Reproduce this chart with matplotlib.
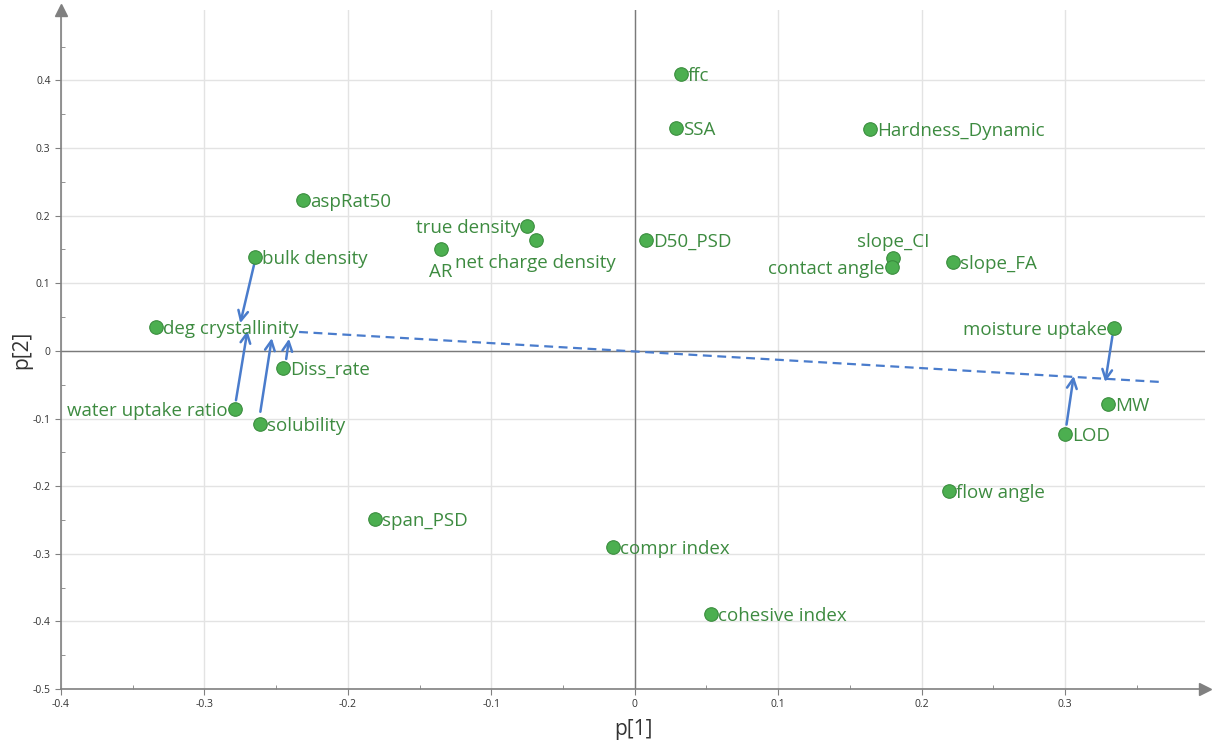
import matplotlib.pyplot as plt
from matplotlib.ticker import MultipleLocator

plt.rcParams['font.family'] = ['Open Sans', 'DejaVu Sans']

names = ["ffc", "SSA", "Hardness_Dynamic", "aspRat50", "true density",
         "net charge density", "AR", "D50_PSD", "slope_CI", "contact angle",
         "slope_FA", "bulk density", "deg crystallinity", "moisture uptake",
         "Diss_rate", "water uptake ratio", "solubility", "MW", "LOD",
         "flow angle", "span_PSD", "compr index", "cohesive index"]
p1 = [0.032, 0.029, 0.164, -0.231, -0.075, -0.069, -0.135, 0.008, 0.180, 0.179,
      0.222, -0.265, -0.334, 0.334, -0.245, -0.279, -0.261, 0.330, 0.300,
      0.219, -0.181, -0.015, 0.053]
p2 = [0.410, 0.330, 0.328, 0.223, 0.185, 0.164, 0.151, 0.164, 0.138, 0.124,
      0.132, 0.139, 0.036, 0.034, -0.025, -0.086, -0.108, -0.078, -0.123,
      -0.207, -0.249, -0.290, -0.389]
# label placement: right, left, above, below
place = ["right", "right", "right", "right", "left", "below", "below", "right",
         "above", "left", "right", "right", "right", "left", "right", "left",
         "right", "right", "right", "right", "right", "right", "right"]

# arrows from start to end
arrow_start = [(-0.265, 0.131), (-0.278, -0.073), (-0.261, -0.090), (-0.243, -0.012),
               (0.333, 0.022), (0.301, -0.109)]
arrow_end = [(-0.275, 0.041), (-0.270, 0.030), (-0.253, 0.019), (-0.241, 0.018),
             (0.328, -0.046), (0.306, -0.037)]
trend_x = [-0.234, 0.367]
trend_y = [0.028, -0.046]

fig = plt.figure(figsize=(12.12, 7.42), dpi=100)
ax = fig.add_axes([0.0503, 0.0714, 0.944, 0.915])
xmin, xmax = -0.4, 0.3976
ymin, ymax = -0.5, 0.504
ax.set_xlim(xmin, xmax)
ax.set_ylim(ymin, ymax)

for s in ["top", "right"]:
    ax.spines[s].set_visible(False)
for s in ["left", "bottom"]:
    ax.spines[s].set_color("#808080")
    ax.spines[s].set_linewidth(1.2)
ax.plot([xmax], [ymin], marker=">", color="#808080", markersize=9, clip_on=False)
ax.plot([xmin], [ymax], marker="^", color="#808080", markersize=9, clip_on=False)

ax.xaxis.set_minor_locator(MultipleLocator(0.05))
ax.yaxis.set_minor_locator(MultipleLocator(0.05))
ax.set_xticks([-0.4, -0.3, -0.2, -0.1, 0, 0.1, 0.2, 0.3])
ax.set_xticklabels(["-0.4", "-0.3", "-0.2", "-0.1", "0", "0.1", "0.2", "0.3"])
ax.set_yticks([-0.5, -0.4, -0.3, -0.2, -0.1, 0, 0.1, 0.2, 0.3, 0.4])
ax.set_yticklabels(["-0.5", "-0.4", "-0.3", "-0.2", "-0.1", "0", "0.1", "0.2", "0.3", "0.4"])
ax.tick_params(which="major", length=4, color="#808080", labelsize=7.5, labelcolor="#333333")
ax.tick_params(which="minor", length=3, direction="in", color="#808080")
ax.grid(True, which="major", color="#e3e3e3", linewidth=1)
ax.set_axisbelow(True)

ax.axhline(0, color="#7a7a7a", linewidth=1, zorder=1)
ax.axvline(0, color="#7a7a7a", linewidth=1, zorder=1)

ax.set_xlabel("p[1]", fontsize=15, color="#333333", labelpad=6)
ax.set_ylabel("p[2]", fontsize=15, color="#333333", labelpad=0)

blue = "#4a7ccc"
ax.plot(trend_x, trend_y, linestyle=(0, (4, 2.5)), color=blue, linewidth=1.6, zorder=2)
for (x0, y0), (x1, y1) in zip(arrow_start, arrow_end):
    ax.annotate("", xy=(x1, y1), xytext=(x0, y0),
                arrowprops=dict(arrowstyle="->,head_length=0.7,head_width=0.35",
                                color=blue, lw=1.8, shrinkA=0, shrinkB=0), zorder=3)

ax.scatter(p1, p2, s=95, color="#4caf50", edgecolor="#3a8d3e", linewidth=0.8, zorder=4)

green = "#3d8b40"
fs = 13.5
for n, x, y, pl in zip(names, p1, p2, place):
    if pl == "right":
        ax.annotate(n, (x, y), xytext=(5, -1.5), textcoords="offset points",
                    ha="left", va="center", fontsize=fs, color=green, zorder=5)
    elif pl == "left":
        ax.annotate(n, (x, y), xytext=(-5, -1.5), textcoords="offset points",
                    ha="right", va="center", fontsize=fs, color=green, zorder=5)
    elif pl == "above":
        ax.annotate(n, (x, y), xytext=(0, 5), textcoords="offset points",
                    ha="center", va="bottom", fontsize=fs, color=green, zorder=5)
    else:
        ax.annotate(n, (x, y), xytext=(0, -10), textcoords="offset points",
                    ha="center", va="top", fontsize=fs, color=green, zorder=5)

fig.savefig("out.png", dpi=100)
